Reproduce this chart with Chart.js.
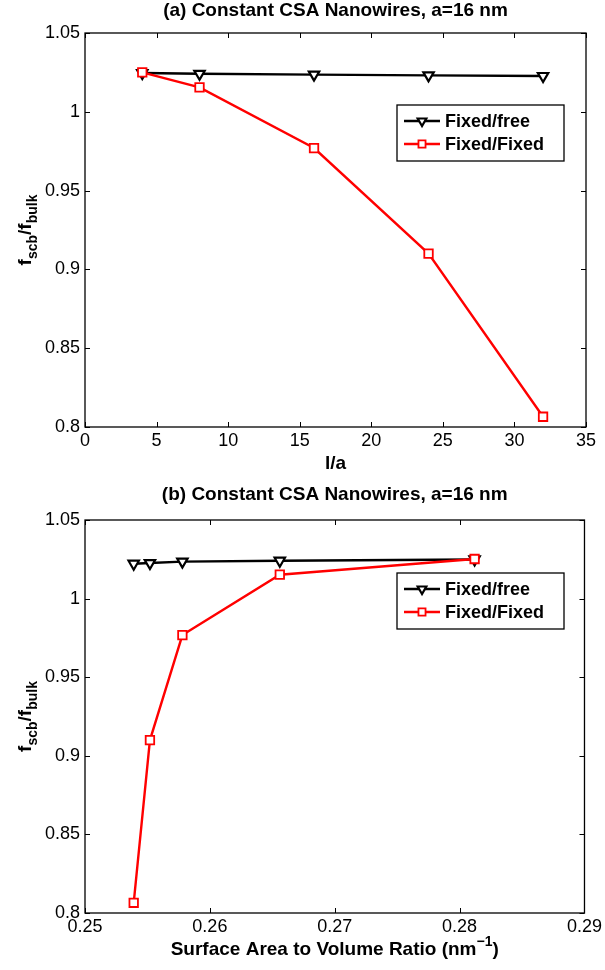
<!DOCTYPE html>
<html>
<head>
<meta charset="utf-8">
<title>Constant CSA Nanowires</title>
<script src="https://cdn.jsdelivr.net/npm/chart.js@4.4.0/dist/chart.umd.min.js"></script>
<style>
  html, body { margin: 0; padding: 0; background: #fff; }
  #wrap { position: relative; width: 605px; height: 970px; }
  canvas { position: absolute; left: 0; }
</style>
</head>
<body>
<div id="wrap">
  <canvas id="chartA" width="605" height="485" style="top:0"></canvas>
  <canvas id="chartB" width="605" height="483" style="top:487px"></canvas>
</div>
<script>
// ---- data ----
// panel (a): length / side ratio
const lengthRatio = [4, 8, 16, 24, 32];
const fixedFreeA = [1.0246, 1.0241, 1.0236, 1.0231, 1.0227];
const fixedFixedA = [1.0250, 1.0155, 0.9770, 0.9100, 0.8065];

// panel (b): surface area to volume ratio (nm^-1)
const surfaceRatio = [0.2812, 0.2656, 0.2578, 0.2552, 0.2539];
const fixedFreeB = [1.0249, 1.0241, 1.0235, 1.0226, 1.0222];
const fixedFixedB = [1.0252, 1.0152, 0.9768, 0.9100, 0.8065];

// tick labels
const xTicksA = [0, 5, 10, 15, 20, 25, 30, 35];
const xTicksB = [0.25, 0.26, 0.27, 0.28, 0.29];
const yTicks = [0.8, 0.85, 0.9, 0.95, 1, 1.05];

const FONT = "'Liberation Sans', Arial, Helvetica, sans-serif";

// draws the matlab style box, inward ticks, titles and legend
const matlabFrame = {
    id: 'matlabFrame',
    afterDatasetsDraw(chart, args, opts) {
        const ctx = chart.ctx;
        const area = chart.chartArea;
        const tl = 5;
        ctx.save();
        ctx.strokeStyle = '#000';
        ctx.lineWidth = 1.3;
        ctx.strokeRect(area.left, area.top, area.right - area.left, area.bottom - area.top);
        ctx.lineWidth = 1;
        ctx.beginPath();
        chart.scales.x.ticks.forEach(t => {
            const px = Math.round(chart.scales.x.getPixelForValue(t.value)) + 0.5;
            ctx.moveTo(px, area.bottom); ctx.lineTo(px, area.bottom - tl);
            ctx.moveTo(px, area.top); ctx.lineTo(px, area.top + tl);
        });
        chart.scales.y.ticks.forEach(t => {
            const py = Math.round(chart.scales.y.getPixelForValue(t.value)) + 0.5;
            ctx.moveTo(area.left, py); ctx.lineTo(area.left + tl, py);
            ctx.moveTo(area.right, py); ctx.lineTo(area.right - tl, py);
        });
        ctx.stroke();
        ctx.restore();
    },
    afterDraw(chart, args, opts) {
        const ctx = chart.ctx;
        const area = chart.chartArea;
        const cx = (area.left + area.right) / 2;
        ctx.save();
        ctx.fillStyle = '#000';
        ctx.textBaseline = 'middle';
        ctx.textAlign = 'center';

        // title
        ctx.font = 'bold 19px ' + FONT;
        ctx.fillText(opts.title, cx, area.top - opts.titleGap);

        // x axis title (parts with optional superscript)
        drawParts(ctx, opts.xTitle, cx, area.bottom + 36, 6);

        // y axis title, rotated
        ctx.save();
        ctx.translate(24, (area.top + area.bottom) / 2);
        ctx.rotate(-Math.PI / 2);
        drawParts(ctx, opts.yTitle, 0, 0, 7);
        ctx.restore();

        // legend box
        const b = opts.legend;
        const bx = area.left + b.x, by = area.top + b.y;
        ctx.fillStyle = '#fff';
        ctx.fillRect(bx, by, b.w, b.h);
        ctx.strokeStyle = '#000';
        ctx.lineWidth = 1.3;
        ctx.strokeRect(bx, by, b.w, b.h);
        const order = ['Fixed/free', 'Fixed/Fixed'];
        order.forEach((name, i) => {
            const ds = chart.data.datasets.find(d => d.label === name);
            const ry = by + 16 + i * 23;
            ctx.strokeStyle = ds.borderColor;
            ctx.lineWidth = ds.borderWidth;
            ctx.beginPath();
            ctx.moveTo(bx + 7, ry); ctx.lineTo(bx + 43, ry);
            ctx.stroke();
            ctx.fillStyle = ds.pointBackgroundColor;
            ctx.strokeStyle = ds.pointBorderColor;
            ctx.lineWidth = ds.pointBorderWidth;
            Chart.helpers.drawPoint(ctx, {
                pointStyle: ds.pointStyle,
                rotation: ds.pointRotation || 0,
                radius: ds.pointRadius - 1,
                borderWidth: ds.pointBorderWidth
            }, bx + 25, ry);
            ctx.fillStyle = '#000';
            ctx.font = 'bold 18px ' + FONT;
            ctx.textAlign = 'left';
            ctx.textBaseline = 'middle';
            ctx.fillText(name, bx + 48, ry + 1);
        });
        ctx.restore();
    }
};

// parts: [{t: text, s: 0|-1|1}] s=-1 subscript, s=1 superscript
function drawParts(ctx, parts, x, y, base) {
    const fontFor = p => (p.s ? 'bold 14px ' : 'bold 19px ') + FONT;
    let total = 0;
    parts.forEach(p => { ctx.font = fontFor(p); total += ctx.measureText(p.t).width; });
    let px = x - total / 2;
    ctx.textAlign = 'left';
    ctx.textBaseline = 'alphabetic';
    parts.forEach(p => {
        ctx.font = fontFor(p);
        const dy = p.s === -1 ? 6 : (p.s === 1 ? -9 : 0);
        ctx.fillText(p.t, px, y + base + dy);
        px += ctx.measureText(p.t).width;
    });
}

function makeChart(id, xs, free, fixed, xTicks, bottomPx, opts) {
    const canvas = document.getElementById(id);
    const H = canvas.height;
    const tickFont = { family: FONT, size: 18 };
    return new Chart(canvas, {
        type: 'line',
        data: {
            datasets: [{
                label: 'Fixed/Fixed',
                data: xs.map((x, i) => ({ x: x, y: fixed[i] })),
                borderColor: '#ff0000',
                borderWidth: 2.4,
                pointStyle: 'rect',
                pointRadius: 6,
                pointBorderWidth: 1.8,
                pointBackgroundColor: '#ffffff',
                pointBorderColor: '#ff0000',
                tension: 0,
                order: 0
            }, {
                label: 'Fixed/free',
                data: xs.map((x, i) => ({ x: x, y: free[i] })),
                borderColor: '#000000',
                borderWidth: 2.4,
                pointStyle: 'triangle',
                pointRotation: 180,
                pointRadius: 6,
                pointBorderWidth: 2.2,
                pointBackgroundColor: '#ffffff',
                pointBorderColor: '#000000',
                tension: 0,
                order: 1
            }]
        },
        options: {
            responsive: false,
            animation: false,
            events: [],
            layout: { padding: { top: 33, right: 19, left: 0, bottom: 0 } },
            scales: {
                x: {
                    type: 'linear',
                    min: xTicks[0],
                    max: xTicks[xTicks.length - 1],
                    afterBuildTicks: s => { s.ticks = xTicks.map(v => ({ value: v })); },
                    grid: { display: false, drawTicks: false },
                    border: { display: false },
                    ticks: { font: tickFont, color: '#000', padding: 3, maxRotation: 0, autoSkip: false,
                             callback: v => String(v) },
                    afterFit: s => { s.height = H - bottomPx; }
                },
                y: {
                    type: 'linear',
                    min: yTicks[0],
                    max: yTicks[yTicks.length - 1],
                    afterBuildTicks: s => { s.ticks = yTicks.map(v => ({ value: v })); },
                    grid: { display: false, drawTicks: false },
                    border: { display: false },
                    ticks: { font: tickFont, color: '#000', padding: 5, autoSkip: false,
                             callback: v => String(v) },
                    afterFit: s => { s.width = 85; }
                }
            },
            plugins: {
                legend: { display: false },
                tooltip: { enabled: false },
                matlabFrame: opts
            }
        },
        plugins: [matlabFrame]
    });
}

const yTitle = [{ t: 'f', s: 0 }, { t: 'scb', s: -1 }, { t: '/f', s: 0 }, { t: 'bulk', s: -1 }];

makeChart('chartA', lengthRatio, fixedFreeA, fixedFixedA, xTicksA, 427, {
    title: '(a) Constant CSA Nanowires, a=16 nm',
    titleGap: 22,
    xTitle: [{ t: 'l/a', s: 0 }],
    yTitle: yTitle,
    legend: { x: 312, y: 72, w: 167, h: 56 }
});

makeChart('chartB', surfaceRatio, fixedFreeB, fixedFixedB, xTicksB, 426, {
    title: '(b) Constant CSA Nanowires, a=16 nm',
    titleGap: 25,
    xTitle: [{ t: 'Surface Area to Volume Ratio (nm', s: 0 }, { t: '\u22121', s: 1 }, { t: ')', s: 0 }],
    yTitle: yTitle,
    legend: { x: 312, y: 53, w: 167, h: 56 }
});
</script>
</body>
</html>
